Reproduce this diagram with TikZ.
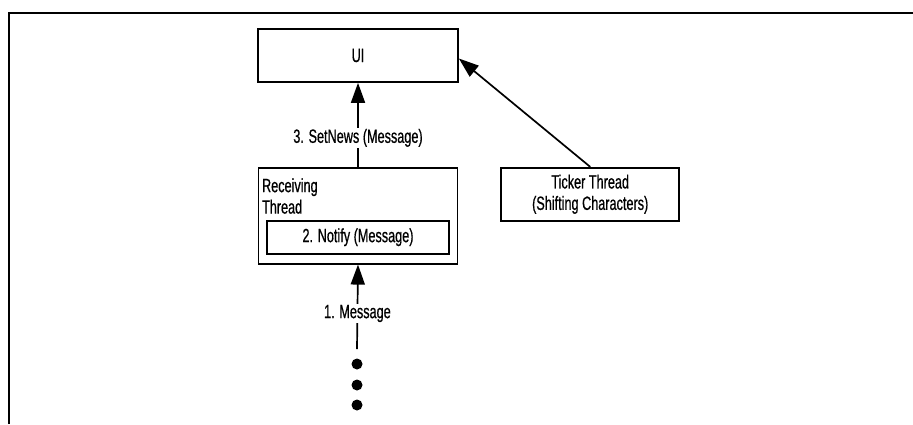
\documentclass[tikz,border=0pt]{standalone}
\usepackage{fontspec}
\setmainfont{Liberation Sans}[FakeStretch=0.66,FakeBold=0.6]
\usepackage{tikz}
\usetikzlibrary{arrows.meta,positioning}

\begin{document}
\begin{tikzpicture}[
    x=0.5pt, y=-0.5pt,
    every node/.style={font=\fontsize{9.6}{10.7}\selectfont},
    box/.style={
        rectangle,
        draw,
        line width=0.85pt,
        align=center,
        inner sep=0pt
    },
    lbl/.style={fill=white, inner xsep=2pt, inner ysep=0.6pt},
    dot/.style={circle, fill, inner sep=0pt, minimum size=5.5pt},
    arrow/.style={-{Triangle[length=10pt,width=7pt]}, line width=0.85pt},
    frame/.style={line width=1pt}
]

\useasboundingbox (0,0) rectangle (913,424);

% outer frame (cut off on the right and at the bottom)
\draw[frame] (9,424) |- (913,12.5);

\node[box, minimum width=100pt, minimum height=26.5pt] (ui) at (358,55.5) {UI};

\node[box, minimum width=99.5pt, minimum height=48pt, below=42pt of ui] (recv) {};

\node[anchor=north west, align=left, inner sep=0pt] (recvtitle)
    at ([shift={(4,11)}]recv.north west) {Receiving\\Thread};

\node[box, minimum width=91pt, minimum height=16.5pt, above=5pt of recv.south] (notify)
{2. Notify (Message)};

\node[box, minimum width=89pt, minimum height=26.5pt, anchor=north west] (ticker)
    at ([xshift=21pt]recv.north east) {Ticker Thread\\(Shifting Characters)};

\foreach \i/\y in {1/364,2/385,3/405}
    \node[dot] (dot\i) at (357,\y) {};

\coordinate (msgsrc) at (357,349);

\draw[arrow] (recv.north) -- node[lbl, pos=0.345]{3. SetNews (Message)} (ui.south);
\draw[arrow] (ticker.north) -- ([yshift=-1.5pt]ui.east);
\draw[arrow] (msgsrc) -- node[lbl, pos=0.42]{1. Message} (recv.south);

\end{tikzpicture}
\end{document}
